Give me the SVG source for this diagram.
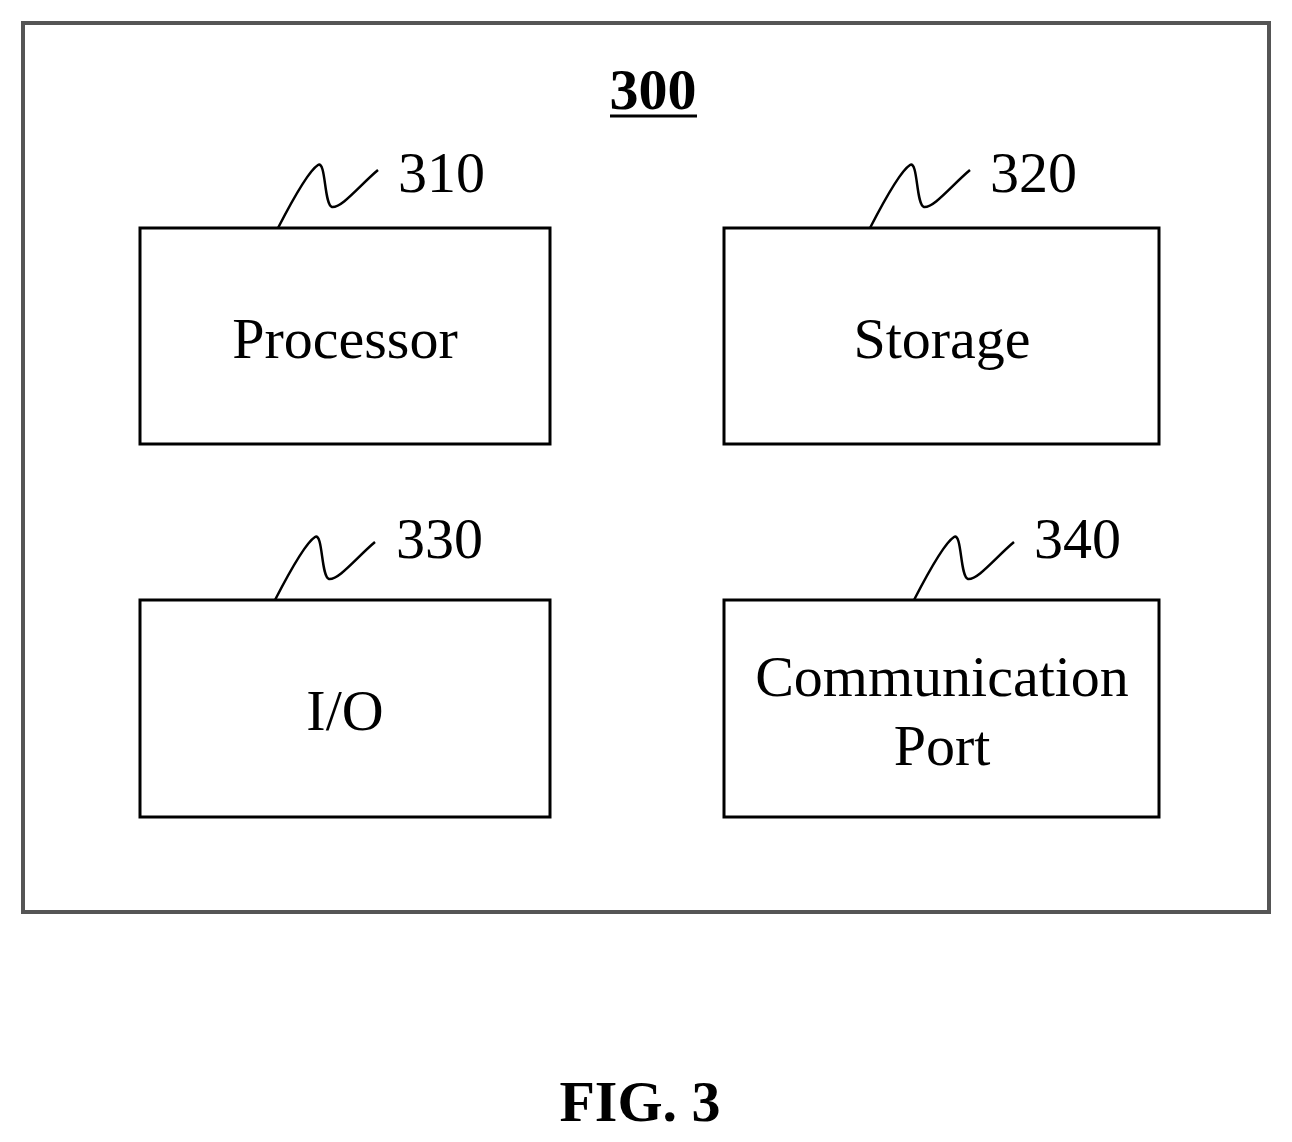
<svg xmlns="http://www.w3.org/2000/svg" width="1292" height="1142" viewBox="0 0 1292 1142">
<style>
.b{fill:none;stroke:#000;stroke-width:3}
.t{font-family:"Liberation Serif",serif;font-size:58px;fill:#000}
.c{text-anchor:middle}
.bold{font-weight:bold}
.s{fill:none;stroke:#000;stroke-width:2.5}
</style>
<rect width="1292" height="1142" fill="#fff"/>
<rect x="23" y="23" width="1246" height="889" fill="none" stroke="#555" stroke-width="4"/>
<text class="t c bold" x="653" y="109" font-size="55">300</text>
<line x1="610" y1="116" x2="697" y2="116" stroke="#000" stroke-width="3"/>
<g id="processor"><rect class="b" x="140" y="228" width="410" height="216"/><text class="t c" x="345" y="358">Processor</text></g>
<g id="storage"><rect class="b" x="724" y="228" width="435" height="216"/><text class="t c" x="942" y="358">Storage</text></g>
<g id="io"><rect class="b" x="140" y="600" width="410" height="217"/><text class="t c" x="345" y="730">I/O</text></g>
<g id="comm"><rect class="b" x="724" y="600" width="435" height="217"/><text class="t c" x="942" y="696">Communication</text><text class="t c" x="942" y="765">Port</text></g>
<g id="connectors">
<path class="s" d="M278,228 C295,195 310,170 318,165 C326,160 324,205 332,207 C342,208 360,185 378,170"/>
<path class="s" d="M870,228 C887,195 902,170 910,165 C918,160 916,205 924,207 C934,208 952,185 970,170"/>
<path class="s" d="M275,600 C292,567 307,542 315,537 C323,532 321,577 329,579 C339,580 357,557 375,542"/>
<path class="s" d="M914,600 C931,567 946,542 954,537 C962,532 960,577 968,579 C978,580 996,557 1014,542"/>
</g>
<text class="t" x="398" y="192" font-size="57">310</text>
<text class="t" x="990" y="192" font-size="57">320</text>
<text class="t" x="396" y="558" font-size="57">330</text>
<text class="t" x="1034" y="558" font-size="57">340</text>
<text class="t c bold" x="640" y="1121" font-size="54">FIG. 3</text>
</svg>
